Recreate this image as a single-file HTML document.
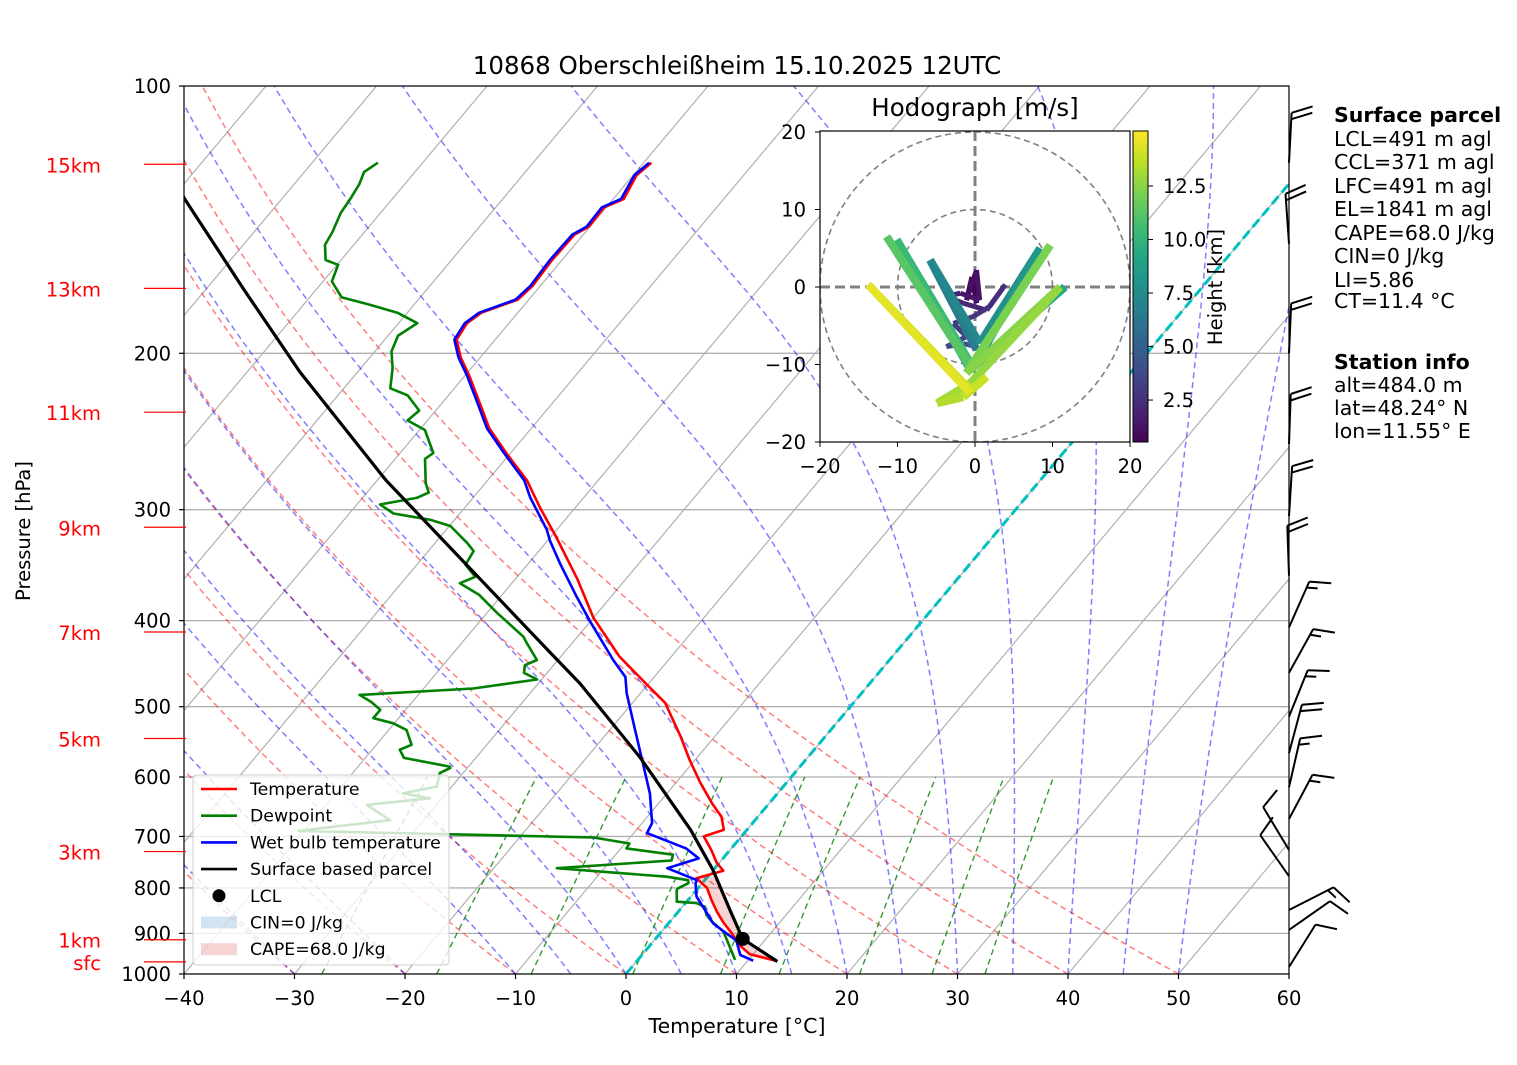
<!DOCTYPE html>
<html><head><meta charset="utf-8"><style>
html,body{margin:0;padding:0;background:#fff}
svg text{font-family:"DejaVu Sans","Liberation Sans",sans-serif}
</style></head><body>
<svg id="chart" width="1517" height="1060" viewBox="0 0 1517 1060" xmlns="http://www.w3.org/2000/svg">
<defs>
<clipPath id="plotclip"><rect x="184" y="86" width="1105" height="888"/></clipPath>
<clipPath id="hodoclip"><rect x="820" y="131" width="310" height="311"/></clipPath>
<linearGradient id="viridis" x1="0" y1="1" x2="0" y2="0">
<stop offset="0" stop-color="#440154"/><stop offset="0.1" stop-color="#482475"/><stop offset="0.2" stop-color="#414487"/><stop offset="0.3" stop-color="#355f8d"/><stop offset="0.4" stop-color="#2a788e"/><stop offset="0.5" stop-color="#21918c"/><stop offset="0.6" stop-color="#22a884"/><stop offset="0.7" stop-color="#44bf70"/><stop offset="0.8" stop-color="#7ad151"/><stop offset="0.9" stop-color="#bddf26"/><stop offset="1" stop-color="#fde725"/>
</linearGradient>
</defs>
<rect width="1517" height="1060" fill="#fff"/>
<text x="737" y="74" font-size="24.5" text-anchor="middle">10868 Oberschleißheim 15.10.2025 12UTC</text>
<g id="bg" clip-path="url(#plotclip)"></g>
<g id="series" clip-path="url(#plotclip)"></g>
<rect x="184" y="86" width="1105" height="888" fill="none" stroke="#000" stroke-width="1.2"/>
<g id="axes"></g>
<g id="legend"></g>
<g id="barbs"></g>
<g id="hodo"></g>
<g id="info" font-size="20.5">
<text x="1334" y="122" font-weight="bold">Surface parcel</text>
<text x="1334" y="146">LCL=491 m agl</text>
<text x="1334" y="169">CCL=371 m agl</text>
<text x="1334" y="193">LFC=491 m agl</text>
<text x="1334" y="216">EL=1841 m agl</text>
<text x="1334" y="240">CAPE=68.0 J/kg</text>
<text x="1334" y="263">CIN=0 J/kg</text>
<text x="1334" y="287">LI=5.86</text>
<text x="1334" y="308">CT=11.4 °C</text>
<text x="1334" y="369" font-weight="bold">Station info</text>
<text x="1334" y="392">alt=484.0 m</text>
<text x="1334" y="415">lat=48.24° N</text>
<text x="1334" y="438">lon=11.55° E</text>
</g>
</svg>
<script>
const tempP=[967,950,925,900,875,850,825,800,780,765,750,725,700,688,665,642,609,574,540,495,472,439,397,359,322,299,278,259,243,228,212,202,193,185,180,174,168,157,147,144,137,134,126,122];
const tempT=[12.7,9.7,7.85,6.5,4.9,3.45,2.1,0.8,-0.9,0.96,-0.2,-1.7,-3.4,-2.1,-3.3,-5.2,-7.8,-10.5,-13.1,-17.05,-20.1,-24.7,-30,-34.4,-39.5,-43.1,-46.45,-50.4,-53.8,-56.5,-59.6,-61.8,-63.5,-63.8,-63.3,-61,-60.7,-60.9,-60.8,-60.1,-60.2,-59.05,-59.7,-59.3];
const wbP=[966,952,916,900,877,854,818,790,784,770,760,741,722,694,676,626,574,527,483,463,443,401,376,346,325,316,291,278,259,243,228,212,202,193,185,180,174,168,157,147,144,137,134,126,122];
const wbT=[10.5,8.9,7.4,6,4.05,2.7,0.5,-0.6,-0.7,-2.8,-4.3,-2.2,-4.1,-8.8,-9.1,-11.55,-14.8,-18,-21.25,-22.6,-25,-30,-33.1,-37,-39.8,-40.9,-44.8,-46.7,-50.6,-54,-56.7,-59.8,-62,-63.7,-64,-63.5,-61.2,-60.9,-61.1,-61,-60.3,-60.4,-59.3,-59.9,-59.5];
const dpP=[964,940,896,873,858,840,832,829,826,804,801,790,784,777,760,745,734,722,713,702,690,671,645,634,626,615,594,586,584,571,559,552,531,522,515,504,494,485,477,466,458,449,443,424,417,392,374,363,357,346,334,327,313,308,303,296,291,287,280,263,259,244,238,232,223,219,208,199,191,185,180,176,173,166,159,157,151,146,139,134,129,125,122];
const dpT=[8.8,7.7,5.6,3.8,2.8,2,1,-0.9,-1,-1.8,-1.8,-1.25,-1.5,-3.7,-14.3,-4.5,-4.8,-9.5,-9.6,-13.3,-40.5,-33.05,-36.3,-31.1,-33.9,-31.35,-32.1,-31.55,-31.7,-36.5,-37.5,-36.8,-38.4,-40.1,-42.3,-42.3,-43.7,-45.3,-35.5,-30.4,-32.1,-32.6,-31.9,-34.1,-34.9,-39.1,-42.1,-44.7,-43.8,-45.6,-45.9,-47.1,-49.9,-52.2,-56,-57.9,-55.1,-54.4,-55.4,-57.3,-57,-59.5,-61.8,-61.5,-63.7,-65.8,-67.1,-68.5,-69.1,-68.3,-70.9,-74.3,-77.1,-79.2,-79.9,-81.4,-82.6,-82.9,-83.6,-83.8,-84.1,-84.6,-84.05];
const parcelP=[968,913,850,764,688,570,471,435,278,210,170,134,120];
const parcelT=[12.75,7.9,4.7,0,-5.1,-15.2,-26.2,-31.2,-59.2,-75.2,-86.4,-98.8,-104];
const lclP=[913], lclT=[7.9];
const pTicks=[100,200,300,400,500,600,700,800,900,1000];
const tTicks=[-40,-30,-20,-10,0,10,20,30,40,50,60];
const hLabels=["15km","13km","11km","9km","7km","5km","3km","1km","sfc"];
const hLabelP=[122.5,169,233,314,412,543,728,915,969];
const barbP=[122,150.5,200,253,305,356,407,458,513,564,616,669,725,776,847,892,982];
const barbDir=[3,356,2.5,2,3.5,358,24,29,22,15,13,28,329,325,63,55,32];
const barbSpd=[20,20,20,20,20,20,15,15,15,20,15,15,10,10,15,10,10];
const hodoH=[0.6,0.8,1.0,1.2,1.4,1.6,1.8,2.0,2.2,2.4,2.6,2.8,3.0,3.3,3.6,4.0,4.5,5.0,6.0,7.0,7.5,8.0,8.5,9.0,9.5,10.0,10.5,11.0,11.5,12.0,12.3,12.6,12.9,13.2,13.5,13.8,14.0,14.3,14.6];
const hodoU=[0.2,-0.4,-1.1,0.2,0.6,-1.9,-3.7,-1.5,1.5,3.9,1.9,-0.2,-2.8,-1.1,-3.7,-1.5,0.2,-1.5,0.2,-5.8,0.6,8.4,0.2,11.6,-0.6,-10.1,-0.6,-11.4,-0.6,9.7,-1.1,11.0,-0.6,-4.9,-1.5,1.5,-0.6,-13.8,-0.6];
const hodoV=[-2.1,1.3,-1.7,2.2,-1.7,-0.8,-1.2,-2.1,-3.0,0.3,-2.5,-3.8,-4.7,-6.4,-7.7,-7.3,-7.7,-5.5,-8.1,3.5,-7.3,5.0,-9.8,0.0,-10.7,6.1,-9.8,6.5,-10.3,5.4,-11.1,0.0,-12.4,-15.0,-14.2,-11.6,-13.3,0.3,-13.7];

const NS='http://www.w3.org/2000/svg';
const Y=p=>974-888*Math.log10(1000/p);
const X=(T,p)=>184+(T+40)*11.05+(974-Y(p))*0.839;
function mk(parent,tag,attrs){const e=document.createElementNS(NS,tag);for(const k in attrs)e.setAttribute(k,attrs[k]);parent.appendChild(e);return e;}
function pathOf(P,T){return P.map((p,i)=>(i?'L':'M')+X(T[i],p).toFixed(1)+' '+Y(p).toFixed(1)).join(' ');}
const bg=document.getElementById('bg'), ser=document.getElementById('series'), ax=document.getElementById('axes');

pTicks.forEach(p=>{const l=mk(bg,'line',{x1:184,x2:1289,y1:Y(p),y2:Y(p),stroke:'#b0b0b0','stroke-width':1.3});

});
for(let T=-160;T<=60;T+=10){const l=mk(bg,'line',{x1:X(T,1000),y1:Y(1000),x2:X(T,100),y2:Y(100),stroke:'#b0b0b0','stroke-width':1.2});

}
const levs=[];for(let p=1000;p>=100;p-=10)levs.push(p);
for(let th=-40;th<=50;th+=10){const T=levs.map(p=>(th+273.15)*Math.pow(p/1000,0.2857)-273.15);
const e=mk(bg,'path',{d:pathOf(levs,T),fill:'none',stroke:'rgba(255,0,0,0.5)','stroke-width':1.5,'stroke-dasharray':'6,4'});

}
function es(Tc){return 6.112*Math.exp(17.67*Tc/(Tc+243.5));}
function dTdp(T,p){const Rd=287.04,Cp=1005.7,Lv=2.501e6,eps=0.622;const e=es(T-273.15);const rs=eps*e/(p-e);
return (Rd*T+Lv*rs)/(Cp+Lv*Lv*rs*eps/(Rd*T*T))/p;}
[-40,-30,-20,-10,-5,0,5,10,15,20,25,30,35,40,45,50].forEach(t0=>{let T=t0+273.15;const P=[1000],TT=[t0];
for(let p=1000;p>100;p-=5){const k1=dTdp(T,p);const k2=dTdp(T-2.5*k1,p-2.5);T=T-5*k2;P.push(p-5);TT.push(T-273.15);}
const e=mk(bg,'path',{d:pathOf(P,TT),fill:'none',stroke:'rgba(0,0,255,0.5)','stroke-width':1.5,'stroke-dasharray':'6,4'});

});
[0.0004,0.001,0.002,0.004,0.007,0.01,0.016,0.024,0.032].forEach(w=>{const P=[],TT=[];
for(let p=1000;p>=600;p-=10){const e=p*w/(0.622+w);const l=Math.log(e/6.112);P.push(p);TT.push(243.5*l/(17.67-l));}
const e=mk(bg,'path',{d:pathOf(P,TT),fill:'none',stroke:'rgba(0,128,0,0.8)','stroke-width':1.4,'stroke-dasharray':'6,4'});

});
{const e=mk(bg,'line',{x1:X(0,1000),y1:Y(1000),x2:X(0,100),y2:Y(100),stroke:'#00c0c0','stroke-width':3,'stroke-dasharray':'10,5'});

}

function interpLog(P,T,p){for(let i=0;i<P.length-1;i++){if(p<=P[i]&&p>=P[i+1]){const f=Math.log(P[i]/p)/Math.log(P[i]/P[i+1]);return T[i]+f*(T[i+1]-T[i]);}}return T[T.length-1];}
{const ps=tempP.filter(p=>p<=967&&p>=776);const top=ps.concat([776]);
const up=top.map(p=>X(interpLog(parcelP,parcelT,p),p).toFixed(1)+','+Y(p).toFixed(1));
const dn=top.slice().reverse().map(p=>X(interpLog(tempP,tempT,p),p).toFixed(1)+','+Y(p).toFixed(1));
const e=mk(ser,'polygon',{points:up.concat(dn).join(' '),fill:'rgba(214,39,40,0.2)',stroke:'none'});

}

const lines=[[tempP,tempT,'#ff0000','temperature-line'],[dpP,dpT,'#008000','dewpoint-line'],[wbP,wbT,'#0000ff','wetbulb-line'],[parcelP,parcelT,'#000','parcel-line']];
lines.forEach(([P,T,c,n])=>{const e=mk(ser,'path',{d:pathOf(P,T),fill:'none',stroke:c,'stroke-width':n==='parcel-line'?3.2:2.6,'stroke-linejoin':'round'});

});
{const e=mk(ser,'circle',{cx:X(lclT[0],lclP[0]),cy:Y(lclP[0]),r:7,fill:'#000'});

}

pTicks.forEach(p=>{mk(ax,'line',{x1:179,x2:184,y1:Y(p),y2:Y(p),stroke:'#000','stroke-width':1.2});
const t=mk(ax,'text',{x:171,y:Y(p)+7,'font-size':19.5,'text-anchor':'end'});t.textContent=p;

});
tTicks.forEach(T=>{const x=184+(T+40)*11.05;mk(ax,'line',{x1:x,x2:x,y1:974,y2:979,stroke:'#000','stroke-width':1.2});
const t=mk(ax,'text',{x:x,y:1005,'font-size':19.5,'text-anchor':'middle'});t.textContent=T<0?'\u2212'+(-T):T;

});
hLabels.forEach((s,i)=>{const y=Y(hLabelP[i]);mk(ax,'line',{x1:144,x2:186,y1:y,y2:y,stroke:'#ff0000','stroke-width':1.2});
const t=mk(ax,'text',{x:101,y:y+8,'font-size':19.5,'text-anchor':'end',fill:'#ff0000'});t.textContent=s;

});
{const t=mk(ax,'text',{x:737,y:1033,'font-size':20.5,'text-anchor':'middle'});t.textContent='Temperature [°C]';


const t2=mk(ax,'text',{x:30,y:531,'font-size':19.5,'text-anchor':'middle',transform:'rotate(-90 30 531)'});t2.textContent='Pressure [hPa]';

}

{const lg=document.getElementById('legend');
mk(lg,'rect',{x:193,y:775,width:256,height:190,rx:4,fill:'rgba(255,255,255,0.8)',stroke:'#cccccc','stroke-width':1});
const ents=[['Temperature','line','#ff0000'],['Dewpoint','line','#008000'],['Wet bulb temperature','line','#0000ff'],['Surface based parcel','line','#000'],['LCL','dot','#000'],['CIN=0 J/kg','patch','rgba(31,119,180,0.2)'],['CAPE=68.0 J/kg','patch','rgba(214,39,40,0.2)']];
ents.forEach((en,i)=>{const y=789+i*26.7;
if(en[1]==='line')mk(lg,'line',{x1:201,x2:237,y1:y,y2:y,stroke:en[2],'stroke-width':2.6});
else if(en[1]==='dot')mk(lg,'circle',{cx:219,cy:y,r:6.5,fill:'#000'});
else mk(lg,'rect',{x:201,y:y-6,width:36,height:12,fill:en[2]});
const t=mk(lg,'text',{x:250,y:y+6,'font-size':17.3});t.textContent=en[0];

});}

{const g=document.getElementById('barbs');const L=50,F=22,S=6.5;
barbP.forEach((p,i)=>{const x0=1289,y0=Y(p);const a=barbDir[i]*Math.PI/180;const dx=Math.sin(a),dy=-Math.cos(a);
const px=-dy,py=dx;const fx=px*0.94+dx*0.34,fy=py*0.94+dy*0.34;
const tx=x0+dx*L,ty=y0+dy*L;let d=`M${x0} ${y0.toFixed(1)} L${tx.toFixed(1)} ${ty.toFixed(1)}`;
let s=barbSpd[i],k=0;
while(s>=10){const bx=tx-dx*S*k,by=ty-dy*S*k;d+=` M${bx.toFixed(1)} ${by.toFixed(1)} l${(fx*F).toFixed(1)} ${(fy*F).toFixed(1)}`;s-=10;k++;}
if(s>=5){if(k===0)k=1;const bx=tx-dx*S*k,by=ty-dy*S*k;d+=` M${bx.toFixed(1)} ${by.toFixed(1)} l${(fx*F/2).toFixed(1)} ${(fy*F/2).toFixed(1)}`;}
const e=mk(g,'path',{d:d,fill:'none',stroke:'#000','stroke-width':2});

});}

{const g=document.getElementById('hodo');const HX=u=>975+u*7.75,HY=v=>287-v*7.75;
mk(g,'rect',{x:820,y:131,width:310,height:311,fill:'#fff',stroke:'none'});
const inner=mk(g,'g',{'clip-path':'url(#hodoclip)'});
[10,20].forEach(r=>mk(inner,'circle',{cx:975,cy:287,r:r*7.75,fill:'none',stroke:'#808080','stroke-width':1.6,'stroke-dasharray':'6,4'}));
mk(inner,'line',{x1:820,x2:1130,y1:287,y2:287,stroke:'#808080','stroke-width':3,'stroke-dasharray':'10,5'});
mk(inner,'line',{x1:975,x2:975,y1:131,y2:442,stroke:'#808080','stroke-width':3,'stroke-dasharray':'10,5'});
const vs=[[0,'#440154'],[0.1,'#482475'],[0.2,'#414487'],[0.3,'#355f8d'],[0.4,'#2a788e'],[0.5,'#21918c'],[0.6,'#22a884'],[0.7,'#44bf70'],[0.8,'#7ad151'],[0.9,'#bddf26'],[1,'#fde725']];
function vir(t){t=Math.max(0,Math.min(1,t));for(let i=0;i<vs.length-1;i++){if(t<=vs[i+1][0]){const f=(t-vs[i][0])/0.1;const a=vs[i][1],b=vs[i+1][1];const c=j=>Math.round(parseInt(a.substr(j,2),16)*(1-f)+parseInt(b.substr(j,2),16)*f);return `rgb(${c(1)},${c(3)},${c(5)})`;}}return vs[10][1];}
for(let i=0;i<hodoH.length-1;i++){const h=(hodoH[i]+hodoH[i+1])/2;
const e=mk(inner,'line',{x1:HX(hodoU[i]),y1:HY(hodoV[i]),x2:HX(hodoU[i+1]),y2:HY(hodoV[i+1]),stroke:vir((h-0.54)/14.53),'stroke-width':h<6?5:8,'stroke-linecap':'butt'});

}
mk(g,'rect',{x:820,y:131,width:310,height:311,fill:'none',stroke:'#000','stroke-width':1.2});
[-20,-10,0,10,20].forEach(v=>{mk(g,'line',{x1:815,x2:820,y1:HY(v),y2:HY(v),stroke:'#000'});
const t=mk(g,'text',{x:806,y:HY(v)+7,'font-size':19.5,'text-anchor':'end'});t.textContent=v<0?'\u2212'+(-v):v;


mk(g,'line',{x1:HX(v),x2:HX(v),y1:442,y2:447,stroke:'#000'});
const t2=mk(g,'text',{x:HX(v),y:473,'font-size':19.5,'text-anchor':'middle'});t2.textContent=v<0?'\u2212'+(-v):v;

});
const tt=mk(g,'text',{x:975,y:116,'font-size':24.5,'text-anchor':'middle'});tt.textContent='Hodograph [m/s]';


const cb=mk(g,'rect',{x:1133,y:131,width:15,height:311,fill:'url(#viridis)',stroke:'#000','stroke-width':1});


[2.5,5,7.5,10,12.5].forEach(h=>{const y=442-(h-0.54)*311/14.53;mk(g,'line',{x1:1148,x2:1153,y1:y,y2:y,stroke:'#000'});
const t=mk(g,'text',{x:1163,y:y+7,'font-size':19.5});t.textContent=h.toFixed(1);

});
const cl=mk(g,'text',{x:1222,y:287,'font-size':19.5,'text-anchor':'middle',transform:'rotate(-90 1222 287)'});cl.textContent='Height [km]';

}
</script>
</body></html>
